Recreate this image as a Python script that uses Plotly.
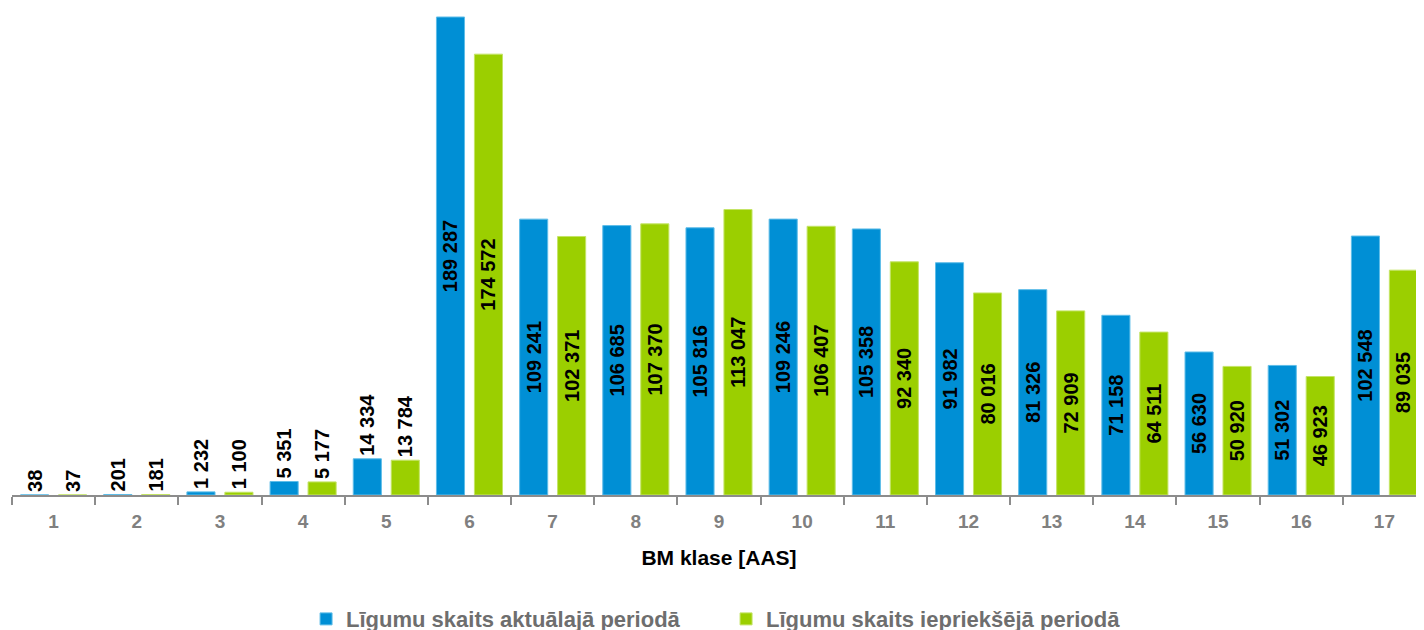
import plotly.graph_objects as go

categories = [str(i) for i in range(1, 18)]
current_values = [38, 201, 1232, 5351, 14334, 189287, 109241, 106685, 105816,
                  109246, 105358, 91982, 81326, 71158, 56630, 51302, 102548]
previous_values = [37, 181, 1100, 5177, 13784, 174572, 102371, 107370, 113047,
                   106407, 92340, 80016, 72909, 64511, 50920, 46923, 89035]
series_names = ["Līgumu skaits aktuālajā periodā", "Līgumu skaits iepriekšējā periodā"]
x_title = "BM klase [AAS]"

BLUE = "#008FD5"
GREEN = "#9BCF00"
FONT = "Liberation Sans, Arial, sans-serif"


def fmt(v):
    return f"{v:,}".replace(",", " ")


def positions(vals):
    return ["outside" if v < 20000 else "inside" for v in vals]


fig = go.Figure()
for name, vals, col, edge in [(series_names[0], current_values, BLUE, "#5fbde8"),
                              (series_names[1], previous_values, GREEN, "#c4e466")]:
    fig.add_trace(go.Bar(
        x=categories, y=vals, name=name,
        marker=dict(color=col, line=dict(color=edge, width=1)),
        text=[fmt(v) for v in vals],
        textposition=positions(vals),
        insidetextanchor="middle",
        textangle=-90,
        textfont=dict(family=FONT, size=20, color="black", weight="bold"),
        cliponaxis=False,
    ))

fig.update_layout(
    width=1424, height=630,
    margin=dict(l=4, r=6, t=0, b=143, autoexpand=False),
    paper_bgcolor="white", plot_bgcolor="white",
    barmode="group", bargap=0.087, bargroupgap=0.26,
    uniformtext=dict(minsize=20, mode="show"),
    font=dict(family=FONT),
    showlegend=True,
    legend=dict(orientation="h", x=0.505, xanchor="center", yref="container",
                y=0.03, yanchor="middle",
                font=dict(family=FONT, size=22, color="#6e6e6e", weight="bold"),
                entrywidth=375, entrywidthmode="pixels"),
    xaxis=dict(type="category", showline=True, linecolor="#8c8c8c", linewidth=2,
               ticks="outside", tickson="boundaries", ticklen=8, tickwidth=2,
               tickcolor="#8c8c8c", ticklabelstandoff=8, automargin=False,
               tickfont=dict(family=FONT, size=19, color="#808080", weight="bold"),
               title=dict(text=x_title, standoff=20,
                          font=dict(family=FONT, size=21, color="black", weight="bold"))),
    yaxis=dict(range=[0, 192850], visible=False, showgrid=False, zeroline=False),
)

fig.write_html("out.html")
